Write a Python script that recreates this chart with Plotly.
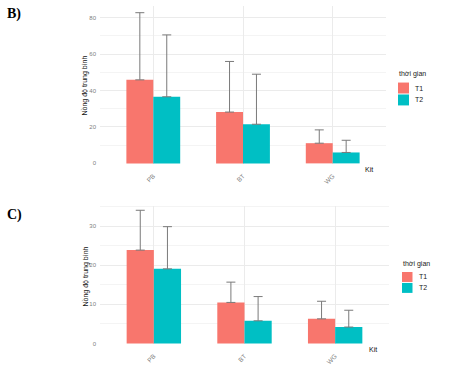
import plotly.graph_objects as go

kits = ["PB", "BT", "WG"]
groups = ["T1", "T2"]
colors = ["#F8766D", "#00BFC4"]

# Panel B
b_mean_t1 = [45.9, 28.2, 11.1]
b_sd_t1 = [36.9, 27.8, 7.3]
b_mean_t2 = [36.6, 21.5, 6.0]
b_sd_t2 = [34.0, 27.5, 6.7]

# Panel C
c_mean_t1 = [23.9, 10.5, 6.3]
c_sd_t1 = [10.2, 5.2, 4.5]
c_mean_t2 = [19.1, 5.8, 4.2]
c_sd_t2 = [10.8, 6.2, 4.3]

W, H = 466, 368
fig = go.Figure()

panels = [
    ("x", "y", [b_mean_t1, b_mean_t2], [b_sd_t1, b_sd_t2]),
    ("x2", "y2", [c_mean_t1, c_mean_t2], [c_sd_t1, c_sd_t2]),
]
for xa, ya, means, sds in panels:
    for g, col, m, s in zip(groups, colors, means, sds):
        fig.add_trace(go.Bar(
            x=kits, y=m, name=g, marker=dict(color=col, line=dict(width=0)),
            offsetgroup=g, showlegend=False,
            error_y=dict(type="data", symmetric=False, array=s, arrayminus=[0]*len(s),
                         color="#7a7a7a", thickness=1, width=4.5),
            xaxis=xa, yaxis=ya,
        ))

def px_x(p):
    return p / W

def px_y(p):
    return 1 - p / H

grid = "#ebebeb"
tickfont = dict(family="Liberation Sans, Arial", size=6, color="#808080")
xtickfont = dict(family="Liberation Sans, Arial", size=6.5, color="#808080")
common_x = dict(type="category", range=[-0.594, 2.594], showgrid=True, gridcolor=grid,
                gridwidth=1, tickangle=-45, tickfont=xtickfont, ticks="", showline=False,
                zeroline=False, fixedrange=True, ticklabelstandoff=6)
fig.update_layout(
    width=W, height=H, margin=dict(l=0, r=0, t=0, b=0), autosize=False,
    plot_bgcolor="white", paper_bgcolor="white",
    barmode="group", bargap=0.4, bargroupgap=0, showlegend=False,
    xaxis=dict(domain=[px_x(100), px_x(386)], anchor="y", **common_x),
    xaxis2=dict(domain=[px_x(100), px_x(389)], anchor="y2", **common_x),
    yaxis=dict(domain=[px_y(165), px_y(6)], range=[-0.4, 86.5], anchor="x",
               tickvals=[0, 20, 40, 60, 80], gridcolor=grid, gridwidth=1,
               minor=dict(tickvals=[10, 30, 50, 70], showgrid=True, gridcolor="#f4f4f4", gridwidth=1),
               zeroline=False, tickfont=tickfont, ticklabelstandoff=3, fixedrange=True),
    yaxis2=dict(domain=[px_y(346.1), px_y(206.7)], range=[-0.2, 35.3], anchor="x2",
                tickvals=[0, 10, 20, 30], gridcolor=grid, gridwidth=1,
                minor=dict(tickvals=[5, 15, 25, 35], showgrid=True, gridcolor="#f4f4f4", gridwidth=1),
                zeroline=False, tickfont=tickfont, ticklabelstandoff=3, fixedrange=True),
    font=dict(family="Liberation Sans, Arial"),
)

ann_font = dict(family="Liberation Sans, Arial", size=7, color="#111111")
annotations = [
    dict(text="Nồng độ trung bình", x=px_x(85), y=px_y(86), textangle=-90, font=ann_font),
    dict(text="Nồng độ trung bình", x=px_x(85), y=px_y(278), textangle=-90, font=ann_font),
    dict(text="Kit", x=px_x(369), y=px_y(170), font=dict(ann_font)),
    dict(text="Kit", x=px_x(373), y=px_y(351), font=dict(ann_font)),
    dict(text="<b>B)</b>", x=px_x(14), y=px_y(14),
         font=dict(family="Liberation Serif, Times New Roman", size=14, color="black")),
    dict(text="<b>C)</b>", x=px_x(14), y=px_y(216),
         font=dict(family="Liberation Serif, Times New Roman", size=14, color="black")),
]
for a in annotations:
    a.update(xanchor="center")

legend_specs = [
    dict(tx=397, ty=74, kx=398, ky=[83, 95], kw=11, kh=11, lx=413),
    dict(tx=401, ty=265, kx=402, ky=[273.5, 284.5], kw=10.5, kh=10, lx=417),
]
shapes = []
leg_font = dict(family="Liberation Sans, Arial", size=7, color="#222222")
for spec in legend_specs:
    annotations.append(dict(text="thời gian", x=px_x(spec["tx"]), y=px_y(spec["ty"]),
                            xanchor="left", font=dict(leg_font)))
    for g, col, ky in zip(groups, colors, spec["ky"]):
        shapes.append(dict(type="rect", xref="paper", yref="paper",
                           x0=px_x(spec["kx"]), x1=px_x(spec["kx"] + spec["kw"]),
                           y0=px_y(ky + spec["kh"]), y1=px_y(ky),
                           fillcolor=col, line=dict(width=0)))
        annotations.append(dict(text=g, x=px_x(spec["lx"]), y=px_y(ky + spec["kh"] / 2),
                                xanchor="left", font=dict(leg_font)))

for a in annotations:
    a.update(xref="paper", yref="paper", showarrow=False, yanchor="middle")
fig.update_layout(annotations=annotations, shapes=shapes)

fig.write_html("out.html", config={"displayModeBar": False},
               post_script="document.body.style.margin='0px';")
